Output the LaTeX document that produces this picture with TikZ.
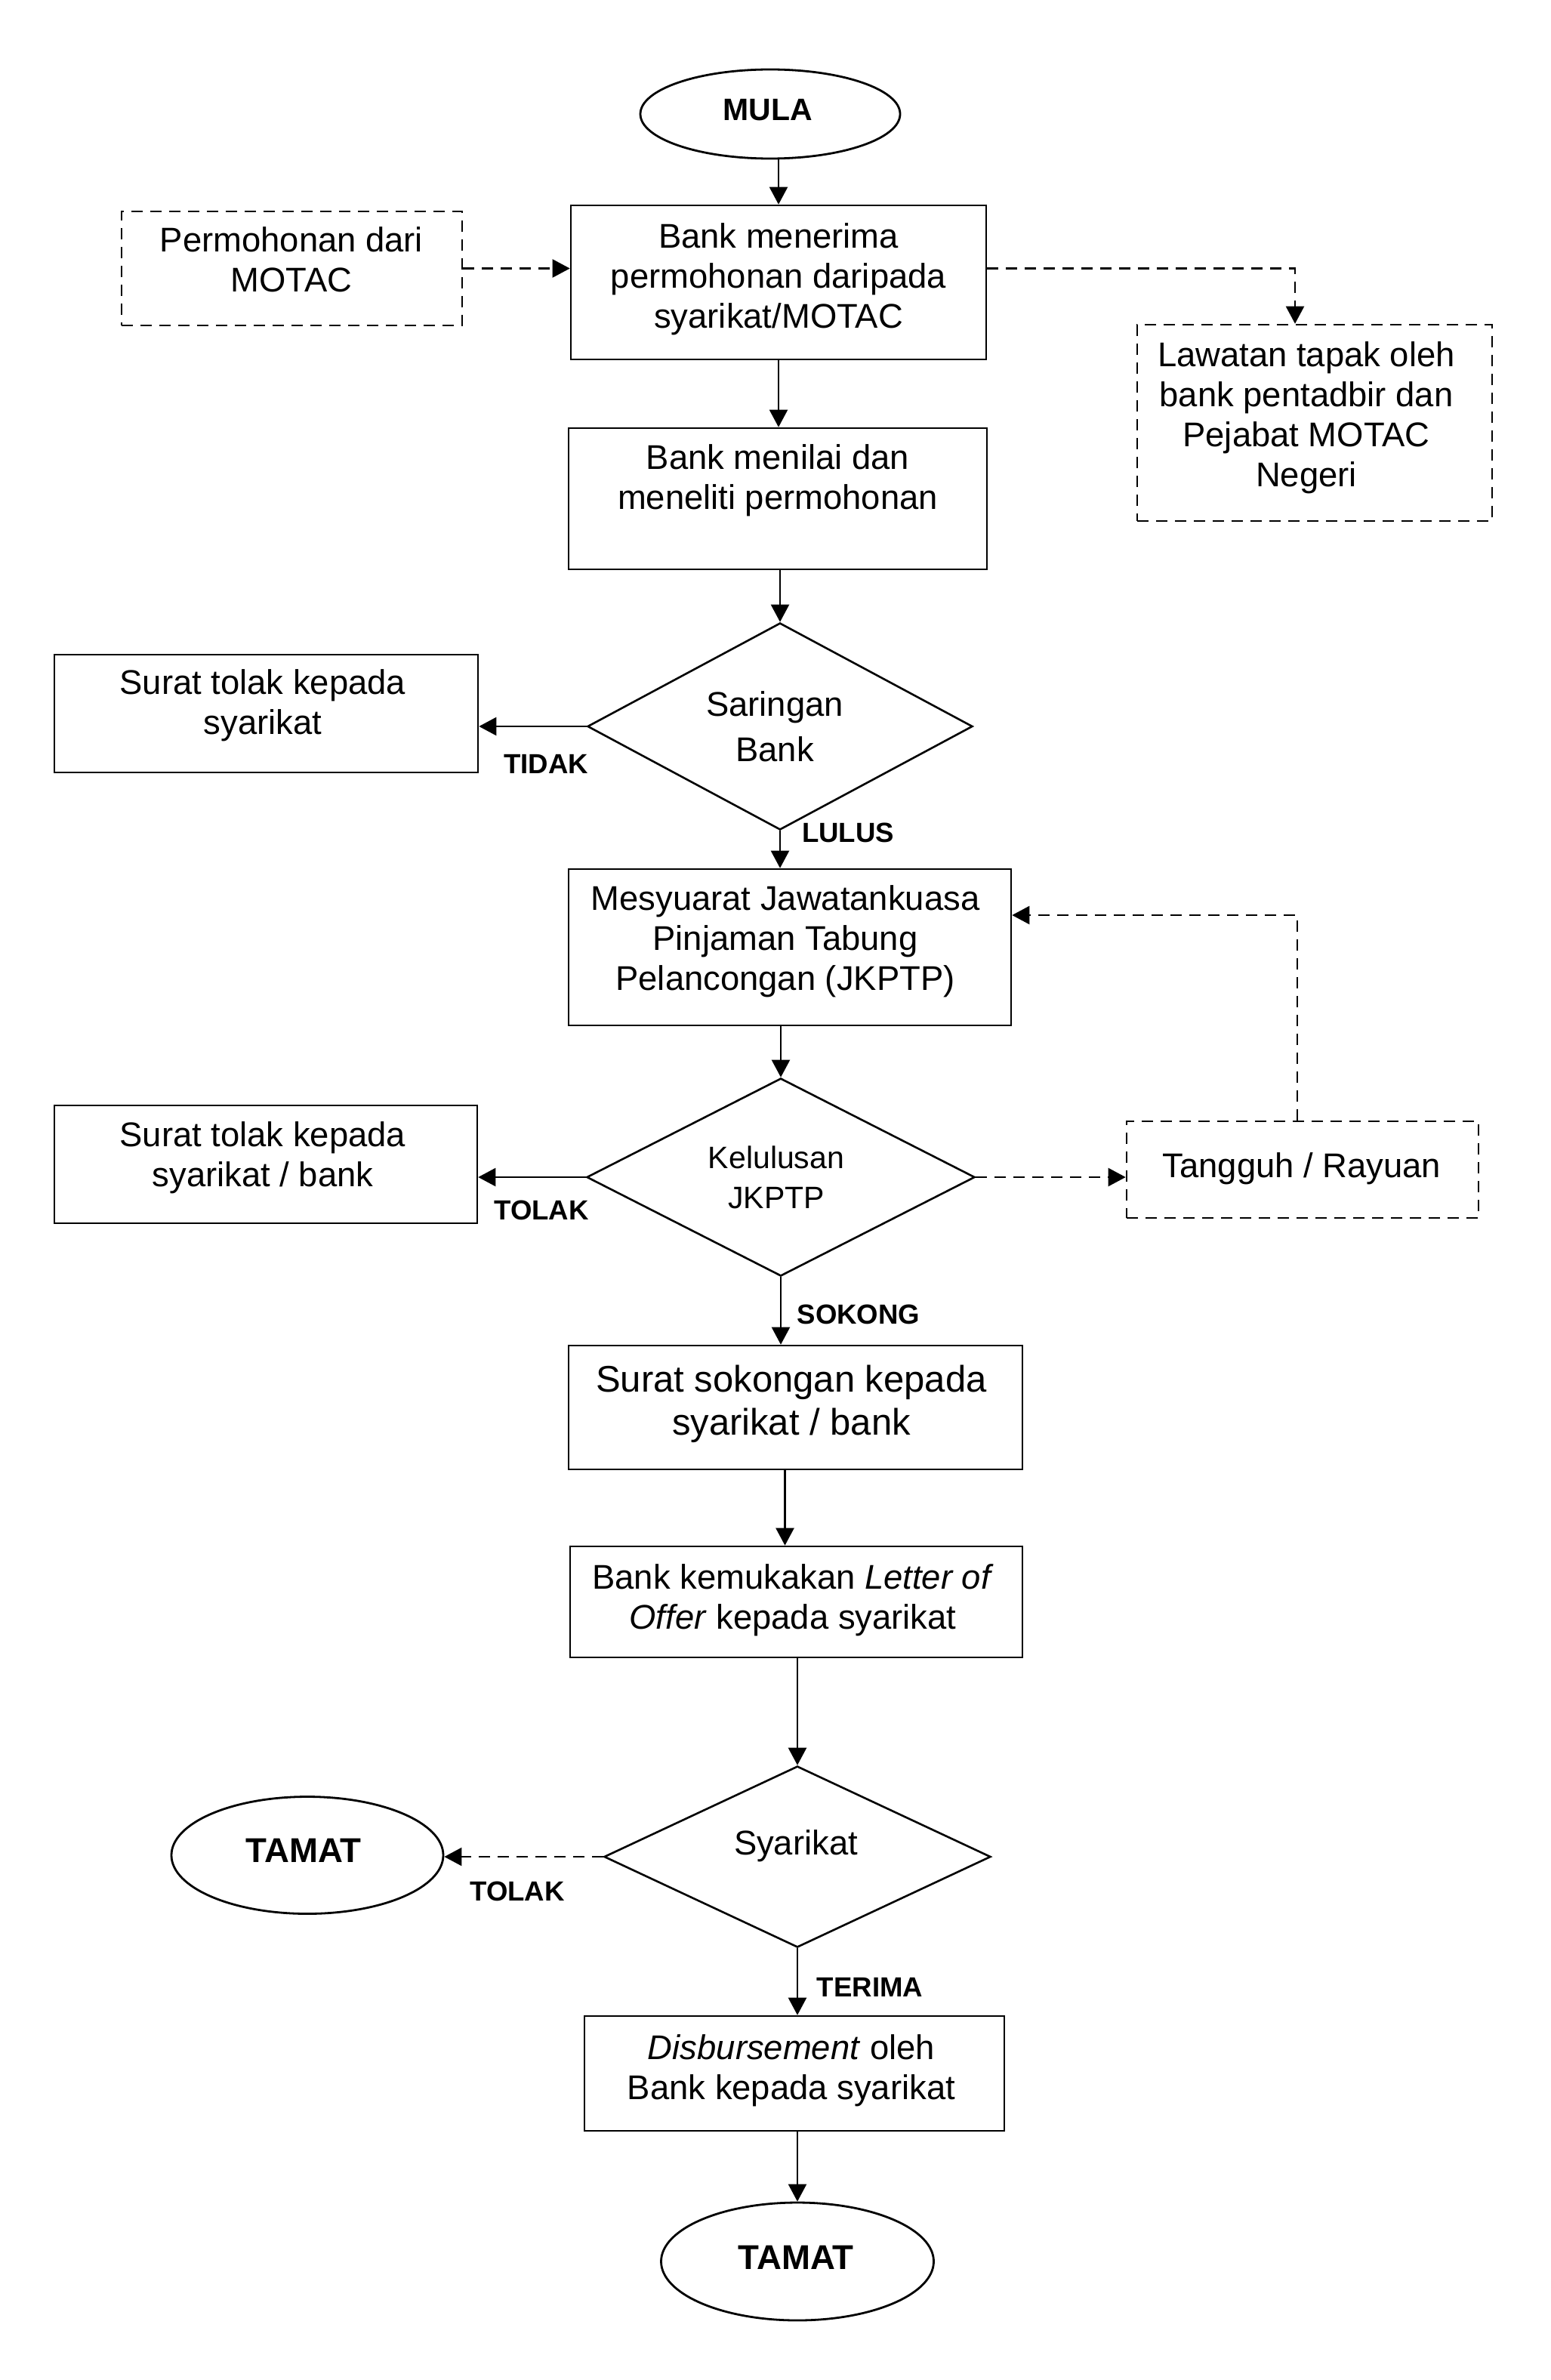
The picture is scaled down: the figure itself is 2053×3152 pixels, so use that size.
\documentclass[tikz,border=0pt]{standalone}
\usepackage{fontspec}
\setmainfont{Liberation Sans}
\usetikzlibrary{shapes.geometric,arrows.meta}
\newcommand\myfs[2]{\fontsize{#1}{#2}\selectfont}
\tikzset{
  box/.style={draw, line width=1.3pt, rectangle, inner sep=0pt},
  dbox/.style={box, dash pattern=on 7.5pt off 5pt},
  dia/.style={draw, line width=1.3pt, diamond, inner sep=0pt},
  ell/.style={draw, line width=1.4pt, ellipse, inner sep=0pt},
  txt/.style={inner sep=0pt, align=center, anchor=north, font=\myfs{22.7}{26.5}},
  lbl/.style={inner sep=0pt, font=\bfseries\myfs{18.3}{22}},
  arr/.style={line width=1.1pt, -{Triangle[length=11.5pt,width=12pt]}},
  darr/.style={arr, dash pattern=on 7.5pt off 5pt}
}
\begin{document}
\begin{tikzpicture}[x=0.5pt,y=-0.5pt]
\useasboundingbox (0,0) rectangle (2053,3152);
\fill[white] (0,0) rectangle (2053,3152);

% shapes
\node[ell, minimum width=172pt, minimum height=59pt] (mula) at (1020,151) {};
\node[inner sep=0pt, font=\bfseries\myfs{20.5}{24}] (mulat) at (1017,146) {MULA};

\node[box, minimum width=275pt, minimum height=102pt] (b1) at (1031,374) {};
\node[txt] (b1t) at (1031,295) {Bank menerima\\permohonan daripada\\syarikat/MOTAC};

\node[dbox, minimum width=225.5pt, minimum height=75.5pt] (perm) at (386.5,355.5) {};
\node[txt] (permt) at (386,300) {Permohonan dari\\MOTAC};

\node[dbox, minimum width=235pt, minimum height=130pt] (law) at (1741,560) {};
\node[txt] (lawt) at (1730,452) {Lawatan tapak oleh\\bank pentadbir dan\\Pejabat MOTAC\\Negeri};

\node[box, minimum width=277pt, minimum height=93.5pt] (b2) at (1030,660.5) {};
\node[txt] (b2t) at (1030,588) {Bank menilai dan\\meneliti permohonan};

\node[dia, minimum width=255pt, minimum height=137pt] (d1) at (1033,962) {};
\node[txt, font=\myfs{22.7}{30}] (d1t) at (1026,915) {Saringan\\Bank};

\node[box, minimum width=280.5pt, minimum height=78pt] (st1) at (352.5,945) {};
\node[txt] (st1t) at (348,886) {Surat tolak kepada\\syarikat};

\node[lbl] (tidak) at (723,1012) {TIDAK};
\node[lbl] (lulus) at (1123,1103) {LULUS};

\node[box, minimum width=293pt, minimum height=103.5pt] (b3) at (1046,1254.5) {};
\node[txt] (b3t) at (1040,1172) {Mesyuarat Jawatankuasa\\Pinjaman Tabung\\Pelancongan (JKPTP)};

\node[dia, minimum width=257pt, minimum height=131pt] (d2) at (1034,1559) {};
\node[txt, font=\myfs{20.5}{26.5}] (d2t) at (1028,1517.5) {Kelulusan\\JKPTP};

\node[box, minimum width=280pt, minimum height=78pt] (st2) at (352,1542) {};
\node[txt] (st2t) at (348,1485) {Surat tolak kepada\\syarikat / bank};

\node[lbl] (tolak1) at (717,1603) {TOLAK};

\node[dbox, minimum width=233pt, minimum height=64pt] (tg) at (1725,1549) {};
\node[txt] (tgt) at (1724,1526) {Tangguh / Rayuan};

\node[lbl] (sokong) at (1137,1741) {SOKONG};

\node[box, minimum width=300.5pt, minimum height=82pt] (b4) at (1053.5,1864) {};
\node[txt, font=\myfs{24.5}{28.5}] (b4t) at (1048,1808) {Surat sokongan kepada\\syarikat / bank};

\node[box, minimum width=299.5pt, minimum height=73.5pt] (b5) at (1054.5,2121.5) {};
\node[txt] (b5t) at (1050,2071) {Bank kemukakan \textit{Letter of}\\\textit{Offer} kepada syarikat};

\node[dia, minimum width=256pt, minimum height=120pt] (d3) at (1056,2459) {};
\node[txt] (d3t) at (1054,2423) {Syarikat};

\node[ell, minimum width=180pt, minimum height=77.5pt] (tl) at (407,2457) {};
\node[inner sep=0pt, font=\bfseries\myfs{22.8}{26}] (tlt) at (402,2451) {TAMAT};

\node[lbl] (tolak2) at (685,2505) {TOLAK};
\node[lbl] (terima) at (1152,2632) {TERIMA};

\node[box, minimum width=278pt, minimum height=76pt] (b6) at (1052,2746) {};
\node[txt] (b6t) at (1048,2694) {\textit{Disbursement} oleh\\Bank kepada syarikat};

\node[ell, minimum width=180.5pt, minimum height=78pt] (tb) at (1056,2995) {};
\node[inner sep=0pt, font=\bfseries\myfs{22.8}{26}] (tbt) at (1054,2990) {TAMAT};

% helper corners
\coordinate (k1) at (1715,355.5);
\coordinate (k2) at (1718,1212);

% connectors
\draw[arr] (b1.north |- mula.south) -- (b1.north);
\draw[darr] (perm.east) -- (perm.east -| b1.west);
\draw[darr] (b1.east |- k1) -- (k1) -- (k1 |- law.north);
\draw[arr] (b1.south) -- (b1.south |- b2.north);
\draw[arr] (d1.north |- b2.south) -- (d1.north);
\draw[arr] (d1.west) -- (d1.west -| st1.east);
\draw[arr] (d1.south) -- (d1.south |- b3.north);
\draw[arr] (d2.north |- b3.south) -- (d2.north);
\draw[arr] (d2.west) -- (d2.west -| st2.east);
\draw[darr] (d2.east) -- (d2.east -| tg.west);
\draw[darr] (k2 |- tg.north) -- (k2) -- (k2 -| b3.east);
\draw[arr] (d2.south) -- (d2.south |- b4.north);
\draw[arr] ([xshift=-7pt]b4.south) -- ([xshift=-7pt]b4.south |- b5.north);
\draw[arr] (d3.north |- b5.south) -- (d3.north);
\draw[darr] (d3.west) -- (d3.west -| tl.east);
\draw[arr] (d3.south) -- (d3.south |- b6.north);
\draw[arr] (tb.north |- b6.south) -- (tb.north);
\end{tikzpicture}
\end{document}
